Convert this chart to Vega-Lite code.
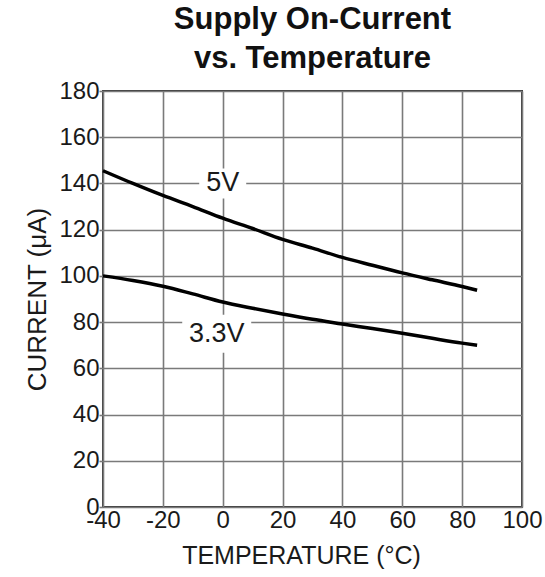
{
  "$schema": "https://vega.github.io/schema/vega-lite/v6.json",
  "width": 419,
  "height": 416,
  "autosize": "none",
  "padding": {"left": 103, "top": 91, "right": 23, "bottom": 70},
  "background": "white",
  "config": {
    "font": "Liberation Sans",
    "view": {"stroke": "#3a3a3a", "strokeWidth": 2},
    "axis": {
      "grid": true,
      "gridColor": "#7a7a7a",
      "gridWidth": 1.6,
      "domain": false,
      "labelFont": "Liberation Sans",
      "labelColor": "#1a1a1a",
      "labelFontSize": 24,
      "titleFont": "Liberation Sans",
      "titleColor": "#1a1a1a",
      "titleFontWeight": "normal",
      "labelOverlap": false,
      "labelFlush": false
    }
  },
  "title": {
    "text": ["Supply On-Current", "vs. Temperature"],
    "font": "Liberation Sans",
    "fontSize": 31,
    "fontWeight": "bold",
    "color": "#111111",
    "lineHeight": 39,
    "anchor": "middle",
    "offset": 4
  },
  "datasets": {
    "curves": [
      {"series": "5V", "temp": -40, "current": 145.5},
      {"series": "5V", "temp": -30, "current": 140},
      {"series": "5V", "temp": -20, "current": 134.8},
      {"series": "5V", "temp": -10, "current": 130},
      {"series": "5V", "temp": 0, "current": 125},
      {"series": "5V", "temp": 10, "current": 120.5},
      {"series": "5V", "temp": 20, "current": 115.8},
      {"series": "5V", "temp": 30, "current": 112},
      {"series": "5V", "temp": 40, "current": 108},
      {"series": "5V", "temp": 50, "current": 104.6},
      {"series": "5V", "temp": 60, "current": 101.3},
      {"series": "5V", "temp": 70, "current": 98.3},
      {"series": "5V", "temp": 80, "current": 95.4},
      {"series": "5V", "temp": 85, "current": 93.8},
      {"series": "3.3V", "temp": -40, "current": 100},
      {"series": "3.3V", "temp": -30, "current": 98},
      {"series": "3.3V", "temp": -20, "current": 95.5},
      {"series": "3.3V", "temp": -10, "current": 92.2},
      {"series": "3.3V", "temp": 0, "current": 88.7},
      {"series": "3.3V", "temp": 10, "current": 86},
      {"series": "3.3V", "temp": 20, "current": 83.5},
      {"series": "3.3V", "temp": 30, "current": 81.2},
      {"series": "3.3V", "temp": 40, "current": 79.2},
      {"series": "3.3V", "temp": 50, "current": 77.2},
      {"series": "3.3V", "temp": 60, "current": 75.2},
      {"series": "3.3V", "temp": 70, "current": 73},
      {"series": "3.3V", "temp": 80, "current": 70.9},
      {"series": "3.3V", "temp": 85, "current": 70}
    ],
    "labels": [
      {"label": "5V", "temp": 0, "current": 140},
      {"label": "3.3V", "temp": -2, "current": 75}
    ]
  },
  "layer": [
    {
      "data": {"name": "curves"},
      "mark": {"type": "line", "color": "#000000", "strokeWidth": 3.5, "interpolate": "monotone"},
      "encoding": {
        "x": {
          "field": "temp",
          "type": "quantitative",
          "scale": {"domain": [-40, 100], "nice": false},
          "axis": {
            "values": [-40, -20, 0, 20, 40, 60, 80, 100],
            "labelExpr": "replace(datum.label, '−', '-')",
            "ticks": false,
            "labelPadding": 1,
            "title": "TEMPERATURE (°C)",
            "titleFontSize": 25,
            "titleX": 198,
            "titleY": 56,
            "titleAlign": "center",
            "titleBaseline": "alphabetic"
          }
        },
        "y": {
          "field": "current",
          "type": "quantitative",
          "scale": {"domain": [0, 180], "nice": false},
          "axis": {
            "values": [0, 20, 40, 60, 80, 100, 120, 140, 160, 180],
            "ticks": true,
            "tickSize": 4,
            "tickColor": "#7a7a7a",
            "tickWidth": 1.6,
            "labelPadding": 0,
            "title": "CURRENT (μA)",
            "titleFontSize": 26,
            "titleX": -58,
            "titleY": 208,
            "titleAngle": -90,
            "titleAlign": "center",
            "titleBaseline": "alphabetic"
          }
        },
        "detail": {"field": "series", "type": "nominal"}
      }
    },
    {
      "data": {"name": "labels"},
      "transform": [{"filter": "datum.label == '5V'"}],
      "mark": {"type": "point", "shape": "M-1,-0.64H1V0.64H-1Z", "size": 2209, "filled": true, "color": "white", "opacity": 1},
      "encoding": {
        "x": {"field": "temp", "type": "quantitative"},
        "y": {"field": "current", "type": "quantitative"}
      }
    },
    {
      "data": {"name": "labels"},
      "transform": [{"filter": "datum.label == '3.3V'"}],
      "mark": {"type": "point", "shape": "M-1,-0.55H1V0.55H-1Z", "size": 4761, "filled": true, "color": "white", "opacity": 1},
      "encoding": {
        "x": {"field": "temp", "type": "quantitative"},
        "y": {"field": "current", "type": "quantitative"}
      }
    },
    {
      "data": {"name": "labels"},
      "mark": {"type": "text", "font": "Liberation Sans", "fontSize": 27, "color": "#1a1a1a", "baseline": "middle", "align": "center"},
      "encoding": {
        "x": {"field": "temp", "type": "quantitative"},
        "y": {"field": "current", "type": "quantitative"},
        "text": {"field": "label", "type": "nominal"}
      }
    }
  ]
}
